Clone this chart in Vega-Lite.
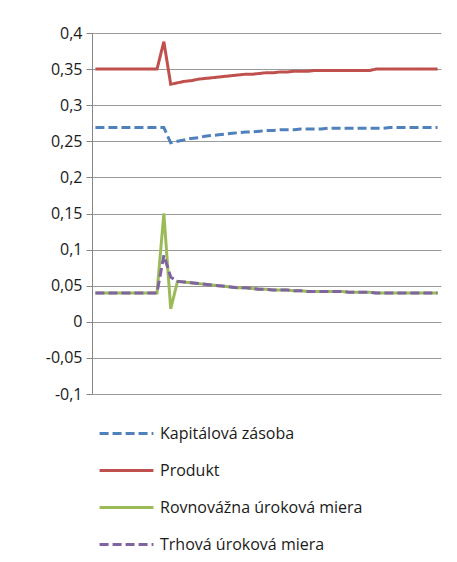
{
  "$schema": "https://vega.github.io/schema/vega-lite/v6.json",
  "width": 349,
  "height": 361,
  "autosize": {"type": "none"},
  "padding": {"left": 92, "top": 33, "right": 16, "bottom": 168},
  "background": "white",
  "config": {
    "view": {"stroke": null},
    "font": "Open Sans"
  },
  "data": {
    "values": [
      {"t":0,"s":"Kapitálová zásoba","v":0.269},{"t":1,"s":"Kapitálová zásoba","v":0.269},{"t":2,"s":"Kapitálová zásoba","v":0.269},{"t":3,"s":"Kapitálová zásoba","v":0.269},{"t":4,"s":"Kapitálová zásoba","v":0.269},{"t":5,"s":"Kapitálová zásoba","v":0.269},{"t":6,"s":"Kapitálová zásoba","v":0.269},{"t":7,"s":"Kapitálová zásoba","v":0.269},{"t":8,"s":"Kapitálová zásoba","v":0.269},{"t":9,"s":"Kapitálová zásoba","v":0.269},{"t":10,"s":"Kapitálová zásoba","v":0.269},{"t":11,"s":"Kapitálová zásoba","v":0.248},{"t":12,"s":"Kapitálová zásoba","v":0.25},{"t":13,"s":"Kapitálová zásoba","v":0.252},{"t":14,"s":"Kapitálová zásoba","v":0.254},{"t":15,"s":"Kapitálová zásoba","v":0.255},{"t":16,"s":"Kapitálová zásoba","v":0.257},{"t":17,"s":"Kapitálová zásoba","v":0.258},{"t":18,"s":"Kapitálová zásoba","v":0.259},{"t":19,"s":"Kapitálová zásoba","v":0.26},{"t":20,"s":"Kapitálová zásoba","v":0.261},{"t":21,"s":"Kapitálová zásoba","v":0.262},{"t":22,"s":"Kapitálová zásoba","v":0.263},{"t":23,"s":"Kapitálová zásoba","v":0.263},{"t":24,"s":"Kapitálová zásoba","v":0.264},{"t":25,"s":"Kapitálová zásoba","v":0.265},{"t":26,"s":"Kapitálová zásoba","v":0.265},{"t":27,"s":"Kapitálová zásoba","v":0.266},{"t":28,"s":"Kapitálová zásoba","v":0.266},{"t":29,"s":"Kapitálová zásoba","v":0.266},{"t":30,"s":"Kapitálová zásoba","v":0.267},{"t":31,"s":"Kapitálová zásoba","v":0.267},{"t":32,"s":"Kapitálová zásoba","v":0.267},{"t":33,"s":"Kapitálová zásoba","v":0.267},{"t":34,"s":"Kapitálová zásoba","v":0.268},{"t":35,"s":"Kapitálová zásoba","v":0.268},{"t":36,"s":"Kapitálová zásoba","v":0.268},{"t":37,"s":"Kapitálová zásoba","v":0.268},{"t":38,"s":"Kapitálová zásoba","v":0.268},{"t":39,"s":"Kapitálová zásoba","v":0.268},{"t":40,"s":"Kapitálová zásoba","v":0.268},{"t":41,"s":"Kapitálová zásoba","v":0.268},{"t":42,"s":"Kapitálová zásoba","v":0.268},{"t":43,"s":"Kapitálová zásoba","v":0.269},{"t":44,"s":"Kapitálová zásoba","v":0.269},{"t":45,"s":"Kapitálová zásoba","v":0.269},{"t":46,"s":"Kapitálová zásoba","v":0.269},{"t":47,"s":"Kapitálová zásoba","v":0.269},{"t":48,"s":"Kapitálová zásoba","v":0.269},{"t":49,"s":"Kapitálová zásoba","v":0.269},{"t":50,"s":"Kapitálová zásoba","v":0.269},

      {"t":0,"s":"Produkt","v":0.35},{"t":1,"s":"Produkt","v":0.35},{"t":2,"s":"Produkt","v":0.35},{"t":3,"s":"Produkt","v":0.35},{"t":4,"s":"Produkt","v":0.35},{"t":5,"s":"Produkt","v":0.35},{"t":6,"s":"Produkt","v":0.35},{"t":7,"s":"Produkt","v":0.35},{"t":8,"s":"Produkt","v":0.35},{"t":9,"s":"Produkt","v":0.35},{"t":10,"s":"Produkt","v":0.388},{"t":11,"s":"Produkt","v":0.329},{"t":12,"s":"Produkt","v":0.331},{"t":13,"s":"Produkt","v":0.333},{"t":14,"s":"Produkt","v":0.334},{"t":15,"s":"Produkt","v":0.336},{"t":16,"s":"Produkt","v":0.337},{"t":17,"s":"Produkt","v":0.338},{"t":18,"s":"Produkt","v":0.339},{"t":19,"s":"Produkt","v":0.34},{"t":20,"s":"Produkt","v":0.341},{"t":21,"s":"Produkt","v":0.342},{"t":22,"s":"Produkt","v":0.343},{"t":23,"s":"Produkt","v":0.343},{"t":24,"s":"Produkt","v":0.344},{"t":25,"s":"Produkt","v":0.345},{"t":26,"s":"Produkt","v":0.345},{"t":27,"s":"Produkt","v":0.346},{"t":28,"s":"Produkt","v":0.346},{"t":29,"s":"Produkt","v":0.347},{"t":30,"s":"Produkt","v":0.347},{"t":31,"s":"Produkt","v":0.347},{"t":32,"s":"Produkt","v":0.348},{"t":33,"s":"Produkt","v":0.348},{"t":34,"s":"Produkt","v":0.348},{"t":35,"s":"Produkt","v":0.348},{"t":36,"s":"Produkt","v":0.348},{"t":37,"s":"Produkt","v":0.348},{"t":38,"s":"Produkt","v":0.348},{"t":39,"s":"Produkt","v":0.348},{"t":40,"s":"Produkt","v":0.348},{"t":41,"s":"Produkt","v":0.35},{"t":42,"s":"Produkt","v":0.35},{"t":43,"s":"Produkt","v":0.35},{"t":44,"s":"Produkt","v":0.35},{"t":45,"s":"Produkt","v":0.35},{"t":46,"s":"Produkt","v":0.35},{"t":47,"s":"Produkt","v":0.35},{"t":48,"s":"Produkt","v":0.35},{"t":49,"s":"Produkt","v":0.35},{"t":50,"s":"Produkt","v":0.35},

      {"t":0,"s":"Rovnovážna úroková miera","v":0.04},{"t":1,"s":"Rovnovážna úroková miera","v":0.04},{"t":2,"s":"Rovnovážna úroková miera","v":0.04},{"t":3,"s":"Rovnovážna úroková miera","v":0.04},{"t":4,"s":"Rovnovážna úroková miera","v":0.04},{"t":5,"s":"Rovnovážna úroková miera","v":0.04},{"t":6,"s":"Rovnovážna úroková miera","v":0.04},{"t":7,"s":"Rovnovážna úroková miera","v":0.04},{"t":8,"s":"Rovnovážna úroková miera","v":0.04},{"t":9,"s":"Rovnovážna úroková miera","v":0.04},{"t":10,"s":"Rovnovážna úroková miera","v":0.15},{"t":11,"s":"Rovnovážna úroková miera","v":0.018},{"t":12,"s":"Rovnovážna úroková miera","v":0.056},{"t":13,"s":"Rovnovážna úroková miera","v":0.055},{"t":14,"s":"Rovnovážna úroková miera","v":0.054},{"t":15,"s":"Rovnovážna úroková miera","v":0.053},{"t":16,"s":"Rovnovážna úroková miera","v":0.052},{"t":17,"s":"Rovnovážna úroková miera","v":0.051},{"t":18,"s":"Rovnovážna úroková miera","v":0.05},{"t":19,"s":"Rovnovážna úroková miera","v":0.049},{"t":20,"s":"Rovnovážna úroková miera","v":0.048},{"t":21,"s":"Rovnovážna úroková miera","v":0.047},{"t":22,"s":"Rovnovážna úroková miera","v":0.047},{"t":23,"s":"Rovnovážna úroková miera","v":0.046},{"t":24,"s":"Rovnovážna úroková miera","v":0.045},{"t":25,"s":"Rovnovážna úroková miera","v":0.045},{"t":26,"s":"Rovnovážna úroková miera","v":0.044},{"t":27,"s":"Rovnovážna úroková miera","v":0.044},{"t":28,"s":"Rovnovážna úroková miera","v":0.044},{"t":29,"s":"Rovnovážna úroková miera","v":0.043},{"t":30,"s":"Rovnovážna úroková miera","v":0.043},{"t":31,"s":"Rovnovážna úroková miera","v":0.042},{"t":32,"s":"Rovnovážna úroková miera","v":0.042},{"t":33,"s":"Rovnovážna úroková miera","v":0.042},{"t":34,"s":"Rovnovážna úroková miera","v":0.042},{"t":35,"s":"Rovnovážna úroková miera","v":0.042},{"t":36,"s":"Rovnovážna úroková miera","v":0.042},{"t":37,"s":"Rovnovážna úroková miera","v":0.041},{"t":38,"s":"Rovnovážna úroková miera","v":0.041},{"t":39,"s":"Rovnovážna úroková miera","v":0.041},{"t":40,"s":"Rovnovážna úroková miera","v":0.041},{"t":41,"s":"Rovnovážna úroková miera","v":0.04},{"t":42,"s":"Rovnovážna úroková miera","v":0.04},{"t":43,"s":"Rovnovážna úroková miera","v":0.04},{"t":44,"s":"Rovnovážna úroková miera","v":0.04},{"t":45,"s":"Rovnovážna úroková miera","v":0.04},{"t":46,"s":"Rovnovážna úroková miera","v":0.04},{"t":47,"s":"Rovnovážna úroková miera","v":0.04},{"t":48,"s":"Rovnovážna úroková miera","v":0.04},{"t":49,"s":"Rovnovážna úroková miera","v":0.04},{"t":50,"s":"Rovnovážna úroková miera","v":0.04},

      {"t":0,"s":"Trhová úroková miera","v":0.04},{"t":1,"s":"Trhová úroková miera","v":0.04},{"t":2,"s":"Trhová úroková miera","v":0.04},{"t":3,"s":"Trhová úroková miera","v":0.04},{"t":4,"s":"Trhová úroková miera","v":0.04},{"t":5,"s":"Trhová úroková miera","v":0.04},{"t":6,"s":"Trhová úroková miera","v":0.04},{"t":7,"s":"Trhová úroková miera","v":0.04},{"t":8,"s":"Trhová úroková miera","v":0.04},{"t":9,"s":"Trhová úroková miera","v":0.04},{"t":10,"s":"Trhová úroková miera","v":0.092},{"t":11,"s":"Trhová úroková miera","v":0.062},{"t":12,"s":"Trhová úroková miera","v":0.056},{"t":13,"s":"Trhová úroková miera","v":0.055},{"t":14,"s":"Trhová úroková miera","v":0.054},{"t":15,"s":"Trhová úroková miera","v":0.053},{"t":16,"s":"Trhová úroková miera","v":0.052},{"t":17,"s":"Trhová úroková miera","v":0.051},{"t":18,"s":"Trhová úroková miera","v":0.05},{"t":19,"s":"Trhová úroková miera","v":0.049},{"t":20,"s":"Trhová úroková miera","v":0.048},{"t":21,"s":"Trhová úroková miera","v":0.047},{"t":22,"s":"Trhová úroková miera","v":0.047},{"t":23,"s":"Trhová úroková miera","v":0.046},{"t":24,"s":"Trhová úroková miera","v":0.045},{"t":25,"s":"Trhová úroková miera","v":0.045},{"t":26,"s":"Trhová úroková miera","v":0.044},{"t":27,"s":"Trhová úroková miera","v":0.044},{"t":28,"s":"Trhová úroková miera","v":0.044},{"t":29,"s":"Trhová úroková miera","v":0.043},{"t":30,"s":"Trhová úroková miera","v":0.043},{"t":31,"s":"Trhová úroková miera","v":0.042},{"t":32,"s":"Trhová úroková miera","v":0.042},{"t":33,"s":"Trhová úroková miera","v":0.042},{"t":34,"s":"Trhová úroková miera","v":0.042},{"t":35,"s":"Trhová úroková miera","v":0.042},{"t":36,"s":"Trhová úroková miera","v":0.042},{"t":37,"s":"Trhová úroková miera","v":0.041},{"t":38,"s":"Trhová úroková miera","v":0.041},{"t":39,"s":"Trhová úroková miera","v":0.041},{"t":40,"s":"Trhová úroková miera","v":0.041},{"t":41,"s":"Trhová úroková miera","v":0.04},{"t":42,"s":"Trhová úroková miera","v":0.04},{"t":43,"s":"Trhová úroková miera","v":0.04},{"t":44,"s":"Trhová úroková miera","v":0.04},{"t":45,"s":"Trhová úroková miera","v":0.04},{"t":46,"s":"Trhová úroková miera","v":0.04},{"t":47,"s":"Trhová úroková miera","v":0.04},{"t":48,"s":"Trhová úroková miera","v":0.04},{"t":49,"s":"Trhová úroková miera","v":0.04},{"t":50,"s":"Trhová úroková miera","v":0.04}
    ]
  },
  "mark": {"type": "line", "strokeWidth": 3, "strokeCap": "butt"},
  "encoding": {
    "x": {
      "field": "t", "type": "quantitative",
      "scale": {"domain": [-0.5, 50.5], "nice": false, "zero": false},
      "axis": null
    },
    "y": {
      "field": "v", "type": "quantitative",
      "scale": {"domain": [-0.1, 0.4], "nice": false},
      "axis": {
        "title": null,
        "values": [-0.1, -0.05, 0, 0.05, 0.1, 0.15, 0.2, 0.25, 0.3, 0.35, 0.4],
        "labelExpr": "replace(toString(datum.value), '.', ',')",
        "labelFont": "Open Sans",
        "labelFontSize": 16,
        "labelColor": "#1a1a1a",
        "labelPadding": 4,
        "tickSize": 6,
        "tickColor": "#868686",
        "domainColor": "#868686",
        "gridColor": "#9a9a9a",
        "grid": true
      }
    },
    "color": {
      "field": "s", "type": "nominal",
      "scale": {
        "domain": ["Kapitálová zásoba", "Produkt", "Rovnovážna úroková miera", "Trhová úroková miera"],
        "range": ["#4F81BD", "#C0504D", "#9BBB59", "#8064A2"]
      },
      "legend": {
        "title": null,
        "orient": "none",
        "legendX": 6,
        "legendY": 372,
        "gridAlign": "all",
        "symbolType": "stroke",
        "symbolSize": 2900,
        "symbolStrokeWidth": 3,
        "labelFont": "Open Sans",
        "labelFontSize": 16,
        "labelColor": "#1a1a1a",
        "labelOffset": 5,
        "labelLimit": 320,
        "rowPadding": -22
      }
    },
    "strokeDash": {
      "field": "s", "type": "nominal",
      "scale": {
        "domain": ["Kapitálová zásoba", "Produkt", "Rovnovážna úroková miera", "Trhová úroková miera"],
        "range": [[9, 4], [1, 0], [1, 0], [9, 4]]
      },
      "legend": null
    },
    "order": {"field": "t"}
  }
}
